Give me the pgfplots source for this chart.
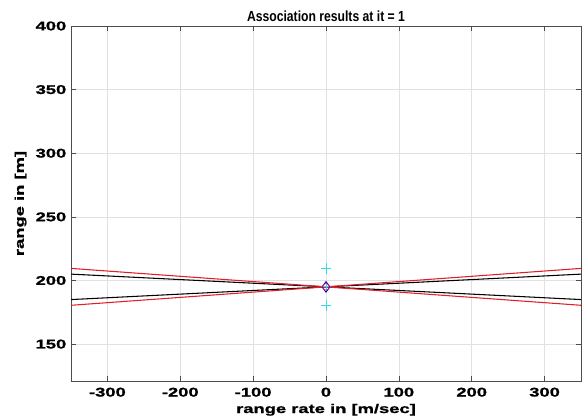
\documentclass[border=0pt]{standalone}
\usepackage{pgfplots}
\pgfplotsset{compat=1.18}
\usepackage{fontspec}
\setmainfont{Liberation Sans}
\newfontfamily\narrowfont[FakeStretch=0.83]{Liberation Sans}
\newfontfamily\widefont[FakeStretch=1.45,FakeBold=1.2]{Liberation Sans}
\usetikzlibrary{calc}
\definecolor{mlred}{RGB}{225,30,40}
\definecolor{mlcyan}{RGB}{50,220,235}
\definecolor{gridgray}{RGB}{225,225,225}
\begin{document}
\begin{tikzpicture}
\begin{axis}[
  scale only axis,
  width=382.5pt, height=266.25pt,
  xmin=-350, xmax=350, ymin=121, ymax=400,
  xtick={-300,-200,...,300},
  ytick={150,200,...,400},
  tick align=inside,
  major tick length=4pt,
  tick style={black!70, line width=0.5pt},
  axis line style={black!70, line width=0.6pt},
  grid=major,
  major grid style={gridgray, line width=0.5pt},
  ticklabel style={font=\widefont\bfseries\fontsize{9.5}{11}\selectfont},
  xticklabel style={yshift=-1.5pt},
  /pgf/number format/assume math mode=true,
  xlabel={range rate in [m/sec]},
  ylabel={range in [m]},
  label style={font=\widefont\bfseries\fontsize{9.5}{11}\selectfont},
  xlabel style={yshift=1.5pt},
  ylabel style={yshift=0pt},
  title={\narrowfont\bfseries Association results at it = 1},
  title style={font=\fontsize{11}{13}\selectfont, yshift=-6pt},
]
\addplot[black, line width=0.8pt] coordinates {(-350,205) (350,185)};
\addplot[black, line width=0.8pt] coordinates {(-350,185) (350,205)};
\addplot[mlred, line width=0.8pt] coordinates {(-350,209.5) (350,180.5)};
\addplot[mlred, line width=0.8pt] coordinates {(-350,180.5) (350,209.5)};
\addplot[only marks, mark=+, mark size=4pt, mlcyan, line width=0.6pt] coordinates {(0,209.5) (0,180.5) (0,195)};
\addplot[only marks, mark=diamond, mark size=4pt, blue!70!black, line width=0.6pt] coordinates {(0,195)};
\addplot[only marks, mark=o, mark size=2.5pt, magenta!80!red, line width=0.5pt] coordinates {(0,195)};
\end{axis}
\pgfresetboundingbox
\path[use as bounding box] ($(current axis.south west)+(-53.25pt,-27pt)$) rectangle ($(current axis.north east)+(3pt,19.5pt)$);
\end{tikzpicture}
\end{document}
